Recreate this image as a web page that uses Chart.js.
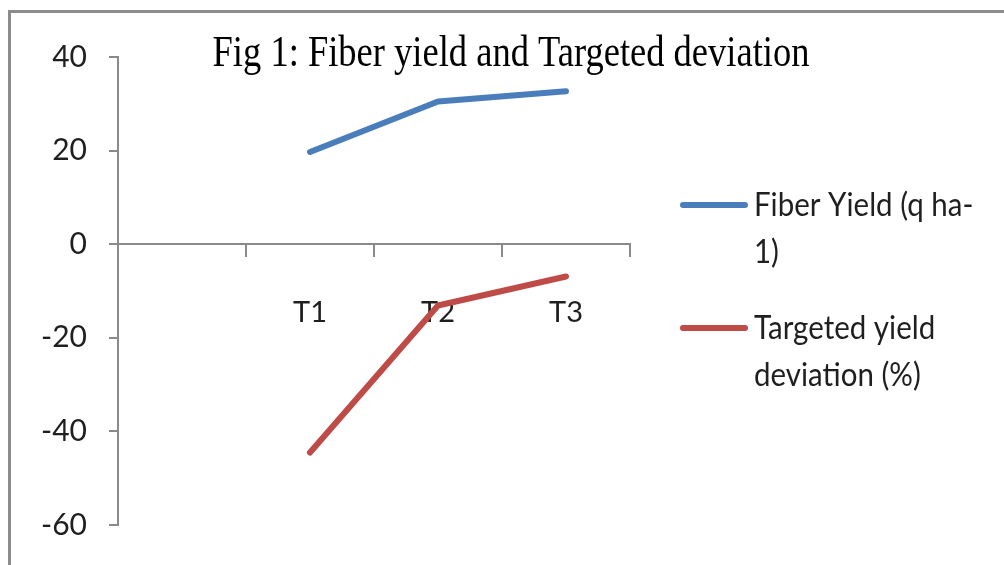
<!DOCTYPE html>
<html>
<head>
<meta charset="utf-8">
<script src="https://cdn.jsdelivr.net/npm/chart.js@4.4.1/dist/chart.umd.min.js"></script>
<style>
  html, body { margin: 0; padding: 0; background: #fff; }
</style>
</head>
<body>
<canvas id="chart" width="1004" height="565"></canvas>
<script>
const categories = ['', 'T1', 'T2', 'T3'];
const fiberYield = [null, 19.7, 30.5, 32.7];
const yieldDeviation = [null, -44.5, -13.1, -6.9];
const yMin = -60, yMax = 40, yStep = 20;
const seriesNames = [['Fiber Yield (q ha-', '1)'], ['Targeted yield', 'deviation (%)']];
const titleText = 'Fig 1: Fiber yield and Targeted deviation';

const axisColor = '#8a8a8a';
const textColor = '#1f1f1f';
const sansFont = 'Lato';

// frame, title and the wrapped legend are drawn by hand like the original
const decor = {
  id: 'decor',
  beforeDraw(chart) {
    const ctx = chart.ctx;
    ctx.save();
    ctx.strokeStyle = '#8c8c8c';
    ctx.lineWidth = 3;
    ctx.strokeRect(9.5, 11.5, 1200, 1000);
    ctx.restore();
  },
  afterDraw(chart) {
    const ctx = chart.ctx;
    ctx.save();
    ctx.fillStyle = '#000';
    ctx.font = '36.5px "Liberation Serif"';
    ctx.textAlign = 'center';
    ctx.textBaseline = 'alphabetic';
    ctx.translate(511, 66);
    ctx.scale(1, 1.2);
    ctx.fillText(titleText, 0, 0);
    ctx.restore();

    const rows = [205, 328];
    chart.data.datasets.forEach((ds, i) => {
      const y = rows[i];
      ctx.save();
      ctx.strokeStyle = ds.borderColor;
      ctx.lineWidth = 6;
      ctx.lineCap = 'round';
      ctx.beginPath();
      ctx.moveTo(683, y);
      ctx.lineTo(745, y);
      ctx.stroke();
      ctx.fillStyle = textColor;
      ctx.font = '29.5px ' + sansFont;
      ctx.textAlign = 'left';
      ctx.textBaseline = 'middle';
      seriesNames[i].forEach((line, j) => {
        ctx.save();
        ctx.translate(754, y + j * 47);
        ctx.scale(1, 1.12);
        ctx.fillText(line, 0, 0);
        ctx.restore();
      });
      ctx.restore();
    });
  }
};

new Chart(document.getElementById('chart'), {
  type: 'line',
  data: {
    labels: categories,
    datasets: [
      { label: seriesNames[0].join(''), data: fiberYield, borderColor: '#4A7EBB', backgroundColor: '#4A7EBB' },
      { label: seriesNames[1].join(' '), data: yieldDeviation, borderColor: '#BE4B48', backgroundColor: '#BE4B48' }
    ]
  },
  options: {
    responsive: false,
    animation: false,
    layout: { padding: { left: 0, top: 57, right: 374, bottom: 38 } },
    elements: {
      line: { borderWidth: 6, tension: 0, borderCapStyle: 'round', borderJoinStyle: 'round' },
      point: { radius: 0, hoverRadius: 0 }
    },
    plugins: { legend: { display: false }, tooltip: { enabled: false }, title: { display: false } },
    scales: {
      x: {
        type: 'category',
        position: { y: 0 },
        offset: true,
        grid: { offset: true, drawOnChartArea: false, drawTicks: true, tickLength: 12, color: axisColor, lineWidth: 2 },
        border: { color: axisColor, width: 2 },
        ticks: { color: textColor, font: { family: sansFont, size: 29 }, padding: 39, maxRotation: 0, autoSkip: false }
      },
      y: {
        min: yMin,
        max: yMax,
        grid: { drawOnChartArea: false, drawTicks: true, tickLength: 9, color: axisColor, lineWidth: 2 },
        border: { color: axisColor, width: 2 },
        ticks: { stepSize: yStep, color: textColor, font: { family: sansFont, size: 30 }, padding: 22 },
        afterFit(scale) { scale.width = 118; }
      }
    }
  },
  plugins: [decor]
});
</script>
</body>
</html>
